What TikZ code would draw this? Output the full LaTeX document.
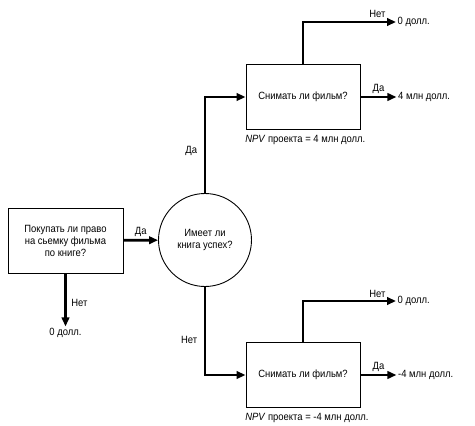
\documentclass[tikz,border=0pt]{standalone}
\usepackage{fontspec}
\setmainfont[FakeStretch=0.9]{Liberation Sans}
\usepackage{tikz}
\usetikzlibrary{arrows.meta}
\usetikzlibrary{calc,positioning}

\begin{document}
\begin{tikzpicture}[x=1pt,y=-1pt,
        flow arrow/.style={
        arrows = {-Triangle[length=9pt,width=7.5pt]},
        line width=2.8pt
        },
        decision/.style={
                draw,
                line width=0.9pt,
                minimum width=114pt,
                minimum height=65pt,
                align=center,
                font=\fontsize{10.5}{12}\selectfont
            },
        chance/.style={
                draw,
                circle,
                line width=0.9pt,
                minimum size=93pt,
                align=center,
                font=\fontsize{10.5}{12}\selectfont
            },
        note/.style={
                inner sep=1.5pt,
                font=\fontsize{10.5}{11}\selectfont
            }]
        \useasboundingbox (0,0) rectangle (475,426);

        \node [decision, minimum width=115pt] (buy) at (65.5,240.5) {Покупать ли право\\на сьемку фильма\\по книге?};
        \node [chance] (hit) at (205,240) {Имеет ли\\книга успех?};
        \node [decision] (filmA) at (303,97) {Снимать ли фильм?};
        \node [decision] (filmB) at (303,375) {Снимать ли фильм?};

        \node [note, anchor=north] (zeroBuy) at ($(buy.south) + (0, 53)$) {0 долл.};

        \node [note, anchor=west] (zeroA) at (396,22) {0 долл.};
        \node [note, anchor=west] (plusA) at ($(filmA.east) + (36, 0)$) {4 млн долл.};
        \node [note, anchor=north west] (npvA) at ($(filmA.south west) + (-2, 4)$) {\textit{NPV} проекта = 4 млн долл.};

        \node [note, anchor=west] (zeroB) at (396,301) {0 долл.};
        \node [note, anchor=west] (minusB) at ($(filmB.east) + (36, 0)$) {-4 млн долл.};
        \node [note, anchor=north west] (npvB) at ($(filmB.south west) + (-2, 4)$) {\textit{NPV} проекта = -4 млн долл.};

        \draw [flow arrow] (buy) -- (hit) node [note, midway, above=1pt] {Да};
        \draw [flow arrow] (buy) -- (zeroBuy) node [note, pos=0.55, right=3pt] {Нет};

        \draw [flow arrow] (hit.north) |- (filmA.west) node [note, pos=0.22, left=5pt] {Да};
        \draw [flow arrow] (hit.south) |- (filmB.west) node [note, pos=0.3, left=5pt] {Нет};

        \draw [flow arrow] (filmA.north) |- (zeroA.west) node [note, pos=0.9, above=1pt] {Нет};
        \draw [flow arrow] (filmA) -- (plusA) node [note, midway, above=1pt] {Да};
        \draw [flow arrow] (filmB.north) |- (zeroB.west) node [note, pos=0.9, above=1pt] {Нет};
        \draw [flow arrow] (filmB) -- (minusB) node [note, midway, above=1pt] {Да};
    \end{tikzpicture}
\end{document}
